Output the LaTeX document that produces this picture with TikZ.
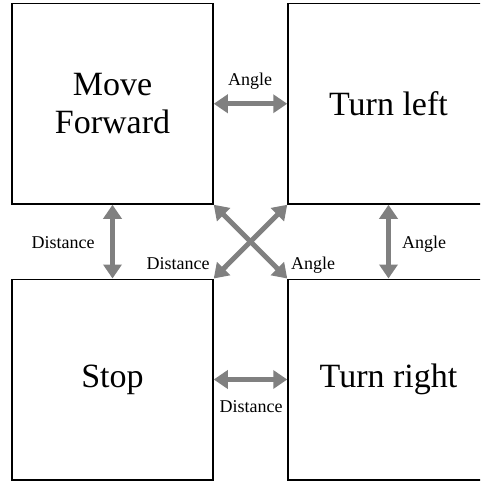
\documentclass[tikz,border=0pt]{standalone}
\usepackage{fontspec}
\setmainfont{Liberation Serif}
\usetikzlibrary{arrows.meta}

\begin{document}
\begin{tikzpicture}[x=1pt, y=-1pt,
    state/.style={draw, line width=1.5pt, minimum width=201pt, minimum height=200.5pt,
        inner sep=0pt, align=center, font=\fontsize{34}{38}\selectfont},
    link/.style={line width=5pt, draw=gray,
        {Triangle[length=14pt,width=18pt]}-{Triangle[length=14pt,width=18pt]}},
    lbl/.style={font=\fontsize{18}{20}\selectfont, inner sep=0pt, anchor=base}]
    \clip (0,0) rectangle (480,485);

    % Commands
    \node[state] (move) at (112.5,103.75) {Move\\Forward};
    \node[state] (left) at (388.5,103.75) {Turn left};
    \node[state] (stop) at (112.5,379.5) {Stop};
    \node[state] (right) at (388.5,379.5) {Turn right};

    % Transitions
    \draw[link] (move) -- (left);
    \draw[link] (move) -- (stop);
    \draw[link] (left) -- (right);
    \draw[link] (stop) -- (right);
    \draw[link] (move.south east) -- (right.north west);
    \draw[link] (left.south west) -- (stop.north east);

    % Parameters
    \node[lbl] (a1) at (250,85) {Angle};
    \node[lbl] (d1) at (63,248) {Distance};
    \node[lbl] (a2) at (424,248) {Angle};
    \node[lbl] (d2) at (178,269) {Distance};
    \node[lbl] (a3) at (313,269) {Angle};
    \node[lbl] (d3) at (251,412) {Distance};
\end{tikzpicture}
\end{document}
